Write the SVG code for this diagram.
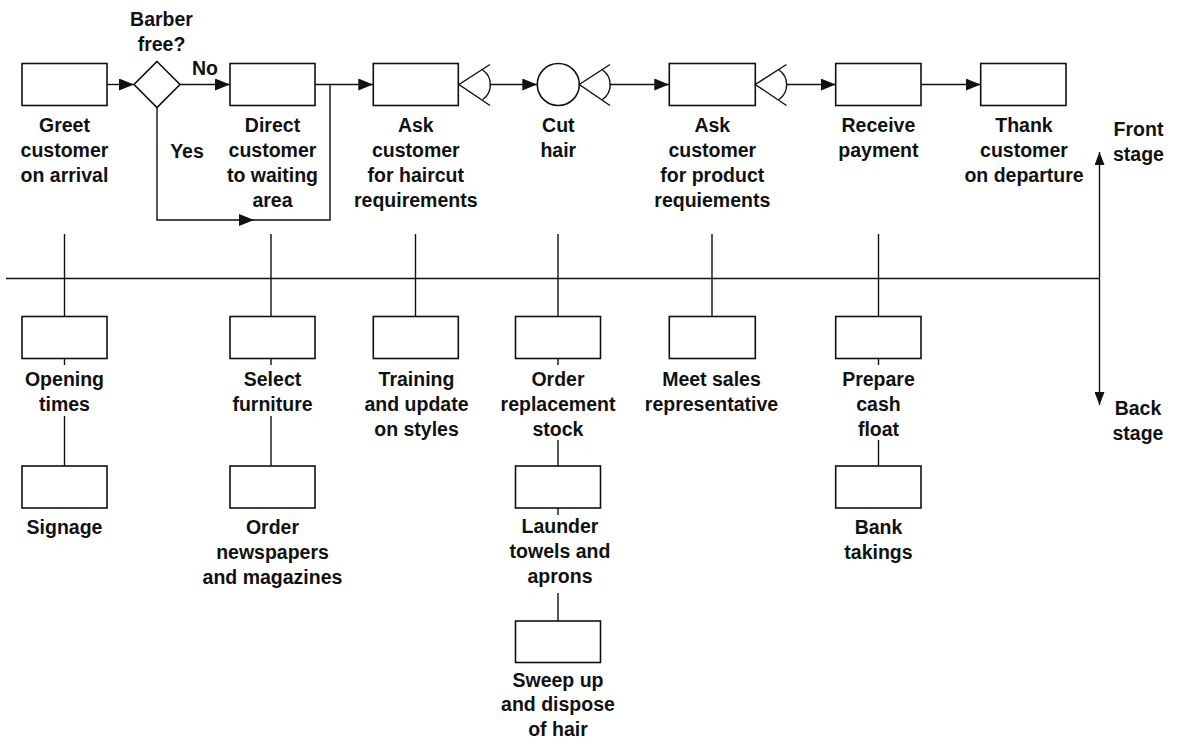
<svg xmlns="http://www.w3.org/2000/svg" width="1177" height="739" viewBox="0 0 1177 739">
  <style>
    .box { fill: #fff; stroke: #111; stroke-width: 1.6; }
    .ln { fill: none; stroke: #111; stroke-width: 1.4; }
    .lbl { font-family: "Liberation Sans", Arial, sans-serif; font-weight: bold; font-size: 19.5px; fill: #111; text-anchor: middle; }
  </style>
  <defs>
    <marker id="arrow" viewBox="0 0 15 12" refX="15" refY="6" markerWidth="15" markerHeight="12" markerUnits="userSpaceOnUse" orient="auto">
      <path d="M0,0 L15,6 L0,12 Z" fill="#111"/>
    </marker>
    <marker id="arrowSm" viewBox="0 0 13 10" refX="13" refY="5" markerWidth="13" markerHeight="10" markerUnits="userSpaceOnUse" orient="auto">
      <path d="M0,0 L13,5 L0,10 Z" fill="#111"/>
    </marker>
  </defs>

  <rect width="1177" height="739" fill="#fff"/>

  <!-- connectors -->
  <g id="connectors">
    <!-- front-stage flow -->
    <line class="ln" x1="107" y1="84.5" x2="134" y2="84.5" marker-end="url(#arrow)"/>
    <line class="ln" x1="180" y1="84.5" x2="230" y2="84.5" marker-end="url(#arrow)"/>
    <line class="ln" x1="315" y1="84.5" x2="373.3" y2="84.5" marker-end="url(#arrow)"/>
    <path class="ln" d="M157,107.5 V220 H254" marker-end="url(#arrow)"/>
    <path class="ln" d="M253,220 H330 V84.5"/>
    <line class="ln" x1="489.5" y1="84.5" x2="537.3" y2="84.5" marker-end="url(#arrow)"/>
    <line class="ln" x1="609.5" y1="84.5" x2="669.3" y2="84.5" marker-end="url(#arrow)"/>
    <line class="ln" x1="786" y1="84.5" x2="835.7" y2="84.5" marker-end="url(#arrow)"/>
    <line class="ln" x1="921" y1="84.5" x2="980.7" y2="84.5" marker-end="url(#arrow)"/>

    <!-- line of visibility and stage axis -->
    <line class="ln" x1="6" y1="278.5" x2="1099.5" y2="278.5"/>
    <line class="ln" x1="1099.5" y1="278.5" x2="1099.5" y2="152" marker-end="url(#arrowSm)"/>
    <line class="ln" x1="1099.5" y1="278.5" x2="1099.5" y2="405" marker-end="url(#arrowSm)"/>

    <!-- front to back links -->
    <line class="ln" x1="64.5" y1="234" x2="64.5" y2="316.5"/>
    <line class="ln" x1="271" y1="234" x2="271" y2="316.5"/>
    <line class="ln" x1="415.5" y1="234" x2="415.5" y2="316.5"/>
    <line class="ln" x1="558" y1="234" x2="558" y2="316.5"/>
    <line class="ln" x1="712" y1="234" x2="712" y2="316.5"/>
    <line class="ln" x1="878.5" y1="234" x2="878.5" y2="316.5"/>

    <!-- back-stage chains -->
    <line class="ln" x1="64.5" y1="358.5" x2="64.5" y2="365"/>
    <line class="ln" x1="64.5" y1="416" x2="64.5" y2="466"/>
    <line class="ln" x1="271" y1="358.5" x2="271" y2="365"/>
    <line class="ln" x1="271" y1="416" x2="271" y2="466"/>
    <line class="ln" x1="558" y1="358.5" x2="558" y2="365"/>
    <line class="ln" x1="558" y1="440" x2="558" y2="466"/>
    <line class="ln" x1="558" y1="508" x2="558" y2="515"/>
    <line class="ln" x1="558" y1="593" x2="558" y2="621"/>
    <line class="ln" x1="878.5" y1="358.5" x2="878.5" y2="365"/>
    <line class="ln" x1="878.5" y1="440" x2="878.5" y2="466"/>
  </g>

  <!-- front stage -->
  <g id="greet">
    <rect class="box" x="22" y="63.5" width="85" height="42"/>
    <text class="lbl" x="64.5" y="131.5">Greet</text>
    <text class="lbl" x="64.5" y="156.5">customer</text>
    <text class="lbl" x="64.5" y="181.5">on arrival</text>
  </g>
  <g id="barber-free">
    <polygon class="box" points="157,61.5 180,84.5 157,107.5 134,84.5"/>
    <text class="lbl" x="161.5" y="26">Barber</text>
    <text class="lbl" x="161.5" y="51">free?</text>
    <text class="lbl" x="205" y="74.5">No</text>
    <text class="lbl" x="187" y="158">Yes</text>
  </g>
  <g id="direct">
    <rect class="box" x="230" y="63.5" width="85" height="42"/>
    <text class="lbl" x="272.5" y="131.5">Direct</text>
    <text class="lbl" x="272.5" y="156.5">customer</text>
    <text class="lbl" x="272.5" y="181.5">to waiting</text>
    <text class="lbl" x="272.5" y="206.5">area</text>
  </g>
  <g id="ask-haircut">
    <rect class="box" x="373.3" y="63.5" width="85" height="42"/>
    <path class="ln" d="M490,64.5 L459,84.5 L490,105.5 M482.7,70 A18,18 0 0 1 482.7,99.5"/>
    <text class="lbl" x="415.8" y="131.5">Ask</text>
    <text class="lbl" x="415.8" y="156.5">customer</text>
    <text class="lbl" x="415.8" y="181.5">for haircut</text>
    <text class="lbl" x="415.8" y="206.5">requirements</text>
  </g>
  <g id="cut-hair">
    <circle class="box" cx="558.3" cy="84.5" r="21"/>
    <path class="ln" d="M610,64.5 L579.3,84.5 L610,105.5 M602.5,70 A18,18 0 0 1 602.5,99.5"/>
    <text class="lbl" x="558.3" y="131.5">Cut</text>
    <text class="lbl" x="558.3" y="156.5">hair</text>
  </g>
  <g id="ask-product">
    <rect class="box" x="669.3" y="63.5" width="86" height="42"/>
    <path class="ln" d="M786.5,64.5 L755.3,84.5 L786.5,105.5 M779,70 A18,18 0 0 1 779,99.5"/>
    <text class="lbl" x="712.3" y="131.5">Ask</text>
    <text class="lbl" x="712.3" y="156.5">customer</text>
    <text class="lbl" x="712.3" y="181.5">for product</text>
    <text class="lbl" x="712.3" y="206.5">requiements</text>
  </g>
  <g id="receive">
    <rect class="box" x="835.7" y="63.5" width="85.3" height="42"/>
    <text class="lbl" x="878.4" y="131.5">Receive</text>
    <text class="lbl" x="878.4" y="156.5">payment</text>
  </g>
  <g id="thank">
    <rect class="box" x="980.7" y="63.5" width="85.3" height="42"/>
    <text class="lbl" x="1024" y="131.5">Thank</text>
    <text class="lbl" x="1024" y="156.5">customer</text>
    <text class="lbl" x="1024" y="181.5">on departure</text>
  </g>

  <!-- stage labels -->
  <g id="front-stage">
    <text class="lbl" x="1138.5" y="136">Front</text>
    <text class="lbl" x="1138.5" y="160.5">stage</text>
  </g>
  <g id="back-stage">
    <text class="lbl" x="1138" y="414.5">Back</text>
    <text class="lbl" x="1138" y="439.5">stage</text>
  </g>

  <!-- back stage -->
  <g id="opening">
    <rect class="box" x="22" y="316.5" width="85" height="42"/>
    <text class="lbl" x="64.5" y="385.5">Opening</text>
    <text class="lbl" x="64.5" y="410.5">times</text>
  </g>
  <g id="signage">
    <rect class="box" x="22" y="466" width="85" height="42"/>
    <text class="lbl" x="64.5" y="534">Signage</text>
  </g>
  <g id="select">
    <rect class="box" x="230" y="316.5" width="85" height="42"/>
    <text class="lbl" x="272.5" y="385.5">Select</text>
    <text class="lbl" x="272.5" y="410.5">furniture</text>
  </g>
  <g id="newspapers">
    <rect class="box" x="230" y="466" width="85" height="42"/>
    <text class="lbl" x="272.5" y="534">Order</text>
    <text class="lbl" x="272.5" y="559">newspapers</text>
    <text class="lbl" x="272.5" y="584">and magazines</text>
  </g>
  <g id="training">
    <rect class="box" x="373.3" y="316.5" width="85" height="42"/>
    <text class="lbl" x="416.5" y="385.5">Training</text>
    <text class="lbl" x="416.5" y="410.5">and update</text>
    <text class="lbl" x="416.5" y="435.5">on styles</text>
  </g>
  <g id="order-stock">
    <rect class="box" x="515.5" y="316.5" width="85" height="42"/>
    <text class="lbl" x="558" y="385.5">Order</text>
    <text class="lbl" x="558" y="410.5">replacement</text>
    <text class="lbl" x="558" y="435.5">stock</text>
  </g>
  <g id="launder">
    <rect class="box" x="515.5" y="466" width="85" height="42"/>
    <text class="lbl" x="560" y="533">Launder</text>
    <text class="lbl" x="560" y="558">towels and</text>
    <text class="lbl" x="560" y="583">aprons</text>
  </g>
  <g id="sweep">
    <rect class="box" x="515.5" y="621" width="85" height="41.5"/>
    <text class="lbl" x="558" y="686.5">Sweep up</text>
    <text class="lbl" x="558" y="711">and dispose</text>
    <text class="lbl" x="558" y="736">of hair</text>
  </g>
  <g id="meet">
    <rect class="box" x="669.3" y="316.5" width="86" height="42"/>
    <text class="lbl" x="711.5" y="385.5">Meet sales</text>
    <text class="lbl" x="711.5" y="410.5">representative</text>
  </g>
  <g id="prepare">
    <rect class="box" x="835.7" y="316.5" width="85.3" height="42"/>
    <text class="lbl" x="878.5" y="385.5">Prepare</text>
    <text class="lbl" x="878.5" y="410.5">cash</text>
    <text class="lbl" x="878.5" y="435.5">float</text>
  </g>
  <g id="bank">
    <rect class="box" x="835.7" y="466" width="85.3" height="42"/>
    <text class="lbl" x="878.5" y="534">Bank</text>
    <text class="lbl" x="878.5" y="559">takings</text>
  </g>
</svg>
